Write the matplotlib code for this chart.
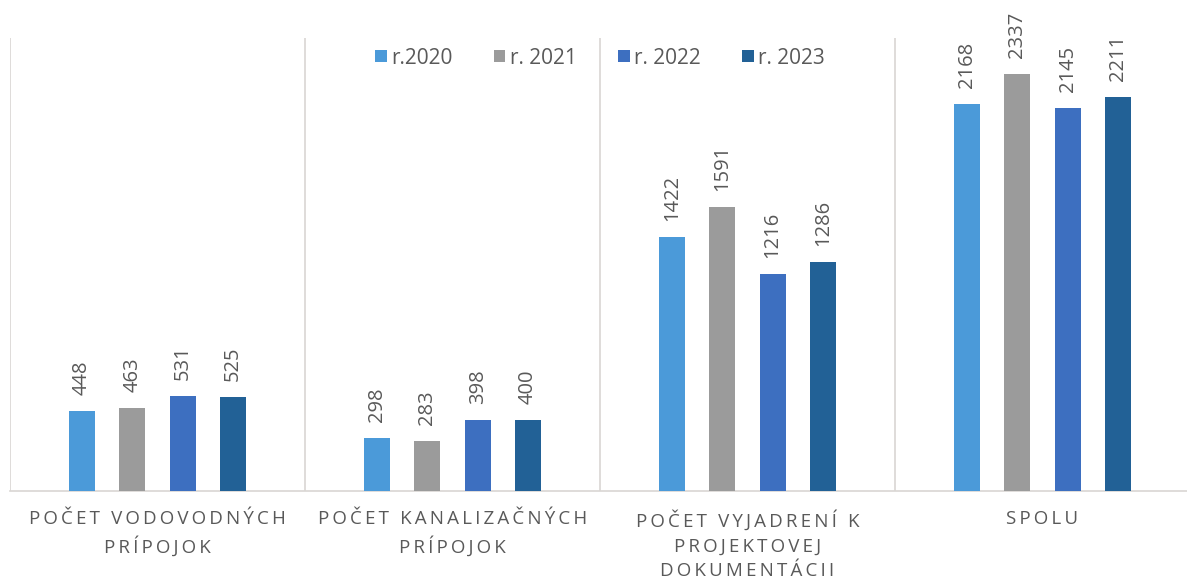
import matplotlib
matplotlib.use("Agg")
import matplotlib.pyplot as plt
import numpy as np

categories = ["POČET VODOVODNÝCH\nPRÍPOJOK", "POČET KANALIZAČNÝCH\nPRÍPOJOK",
              "POČET VYJADRENÍ K\nPROJEKTOVEJ\nDOKUMENTÁCII", "SPOLU"]
series_names = ["r.2020", "r. 2021", "r. 2022", "r. 2023"]
v2020 = [448, 298, 1422, 2168]
v2021 = [463, 283, 1591, 2337]
v2022 = [531, 398, 1216, 2145]
v2023 = [525, 400, 1286, 2211]
series = [v2020, v2021, v2022, v2023]
colors = ["#4B9AD9", "#9B9B9B", "#3D6FC0", "#226196"]

TXT = "#595959"
plt.rcParams['font.family'] = ['Open Sans', 'DejaVu Sans']

def spaced(s, sp="\u2009"):
    return "\n".join(sp.join(list(line)) for line in s.split("\n"))

fig = plt.figure(figsize=(11.87, 5.80), dpi=100)
ax = fig.add_axes([10/1187, 89/580, 1180/1187, 453/580])

x = np.arange(len(categories)) + 0.5
offsets = [-0.257, -0.086, 0.085, 0.256]
width = 0.088
for vals, name, col, off in zip(series, series_names, colors, offsets):
    bars = ax.bar(x + off, vals, width=width, color=col, label=name, zorder=3)
    for b, v in zip(bars, vals):
        ax.annotate(str(v), (b.get_x() + b.get_width()/2, v), xytext=(0, 11.5),
                    textcoords="offset points", rotation=90, ha="center", va="bottom",
                    fontsize=14.5, color=TXT)

ax.set_xlim(0, 4)
ax.set_ylim(0, 2540)
for xv in [0, 1, 2, 3]:
    ax.axvline(xv, color="#D9D6D3", lw=1.2, zorder=1)
for s in ["top", "right", "left"]:
    ax.spines[s].set_visible(False)
ax.spines["bottom"].set_color("#D9D6D3")
ax.spines["bottom"].set_linewidth(1.2)
ax.set_yticks([])
ax.set_xticks(x)
ax.set_xticklabels([spaced(c) for c in categories], fontsize=13.5, color=TXT,
                   linespacing=1.45)
ax.tick_params(axis="x", length=0, pad=14)

leg = ax.legend(loc="center", bbox_to_anchor=((600 - 10) / 1180, (580 - 58 - 89) / 453),
                ncol=4, frameon=False, fontsize=15, handlelength=0.55, handleheight=0.55,
                handletextpad=0.2, columnspacing=2.0, labelcolor=TXT)

fig.savefig("out.png", dpi=100, facecolor="white")
